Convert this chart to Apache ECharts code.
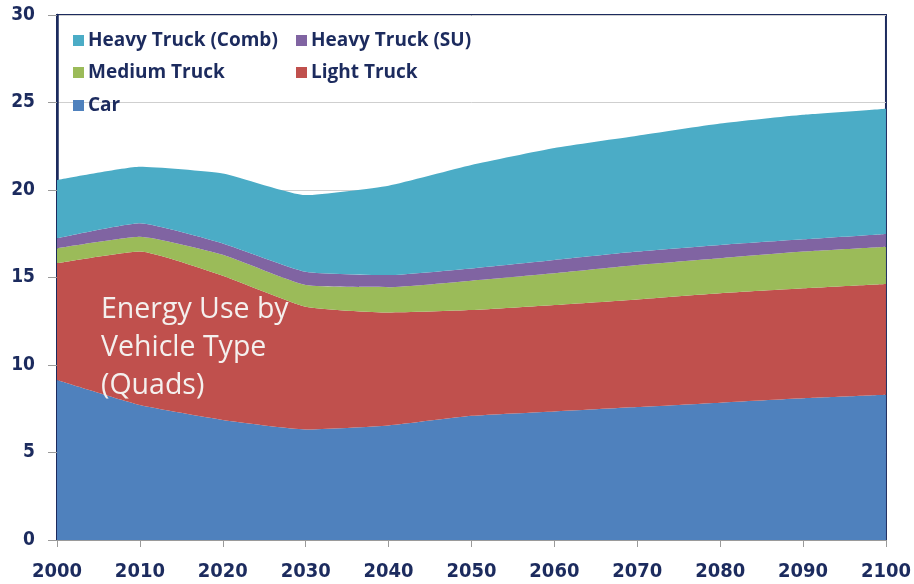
<!DOCTYPE html>
<html>
<head>
<meta charset="utf-8">
<script src="https://cdn.jsdelivr.net/npm/echarts@6/dist/echarts.min.js"></script>
<style>
  html, body { margin: 0; padding: 0; background: #fff; }
  #chart { width: 914px; height: 584px; }
</style>
</head>
<body>
<div id="chart"></div>
<script>
  // years on the x axis
  const years = ['2000', '2010', '2020', '2030', '2040', '2050', '2060', '2070', '2080', '2090', '2100']
  // energy use per vehicle type (quads), stacked bottom -> top
  const car = [9.14, 7.71, 6.86, 6.32, 6.55, 7.1, 7.35, 7.6, 7.85, 8.1, 8.3]
  const lightTruck = [6.67, 8.77, 8.24, 7.01, 6.45, 6.04, 6.08, 6.15, 6.25, 6.28, 6.33]
  const mediumTruck = [0.86, 0.85, 1.2, 1.24, 1.45, 1.68, 1.81, 1.96, 2.0, 2.1, 2.13]
  const heavySU = [0.57, 0.77, 0.65, 0.76, 0.69, 0.7, 0.76, 0.77, 0.76, 0.7, 0.73]
  const heavyComb = [3.33, 3.23, 4.0, 4.38, 5.11, 5.91, 6.4, 6.62, 6.94, 7.12, 7.16]

  const navy = '#1c2b5e'
  const chart = echarts.init(document.getElementById('chart'))

  const seriesList = [
    { name: 'Car', data: car, color: '#4f81bd' },
    { name: 'Light Truck', data: lightTruck, color: '#c0504d' },
    { name: 'Medium Truck', data: mediumTruck, color: '#9bbb59' },
    { name: 'Heavy Truck (SU)', data: heavySU, color: '#8064a2' },
    { name: 'Heavy Truck (Comb)', data: heavyComb, color: '#4bacc6' }
  ]

  const series = seriesList.map(s => ({
    name: s.name,
    type: 'line',
    stack: 'total',
    smooth: 0.15,
    symbol: 'none',
    lineStyle: { width: 0 },
    itemStyle: { color: s.color },
    areaStyle: { color: s.color, opacity: 1 },
    data: s.data
  }))

  // one legend per item so the two columns line up like the original
  const legendPos = [
    { name: 'Heavy Truck (Comb)', left: 73, top: 31 },
    { name: 'Heavy Truck (SU)', left: 296, top: 31 },
    { name: 'Medium Truck', left: 73, top: 63 },
    { name: 'Light Truck', left: 296, top: 63 },
    { name: 'Car', left: 73, top: 96 }
  ]
  const legends = legendPos.map(p => ({
    data: [p.name],
    left: p.left,
    top: p.top,
    padding: 0,
    itemWidth: 11,
    itemHeight: 11,
    itemGap: 6,
    icon: 'rect',
    selectedMode: false,
    textStyle: {
      color: navy,
      fontSize: 19,
      fontWeight: 'bold',
      fontFamily: 'Open Sans',
      padding: [0, 0, 0, -1]
    }
  }))

  const option = {
    animation: false,
    legend: legends,
    grid: {
      left: 57,
      right: 24,
      top: 15,
      bottom: 44,
      show: true,
      borderColor: navy,
      borderWidth: 2,
      backgroundColor: 'transparent'
    },
    xAxis: {
      type: 'category',
      data: years,
      boundaryGap: false,
      axisLine: { show: true, lineStyle: { color: '#9a9a9a', width: 1 } },
      axisTick: { show: true, alignWithLabel: true, length: 7, lineStyle: { color: '#9a9a9a' } },
      axisLabel: {
        color: navy,
        fontSize: 20,
        fontWeight: 'bold',
        fontFamily: 'DejaVu Sans Condensed',
        margin: 22,
        interval: 0
      },
      splitLine: { show: false }
    },
    yAxis: {
      type: 'value',
      min: 0,
      max: 30,
      interval: 5,
      axisLine: { show: true, lineStyle: { color: navy, width: 2.5 } },
      axisTick: { show: true, length: 9, lineStyle: { color: '#9a9a9a' } },
      axisLabel: {
        color: navy,
        fontSize: 19,
        fontWeight: 'bold',
        fontFamily: 'DejaVu Sans Condensed',
        margin: 22
      },
      splitLine: { show: true, lineStyle: { color: '#cfcfcf', width: 1 } }
    },
    graphic: [{
      type: 'text',
      left: 101,
      top: 291,
      z: 100,
      style: {
        text: 'Energy Use by\nVehicle Type\n(Quads)',
        fill: '#f4f0ee',
        font: '28.5px "Open Sans"',
        lineHeight: 38
      }
    }],
    series: series
  }
  chart.setOption(option, true)
</script>
</body>
</html>
